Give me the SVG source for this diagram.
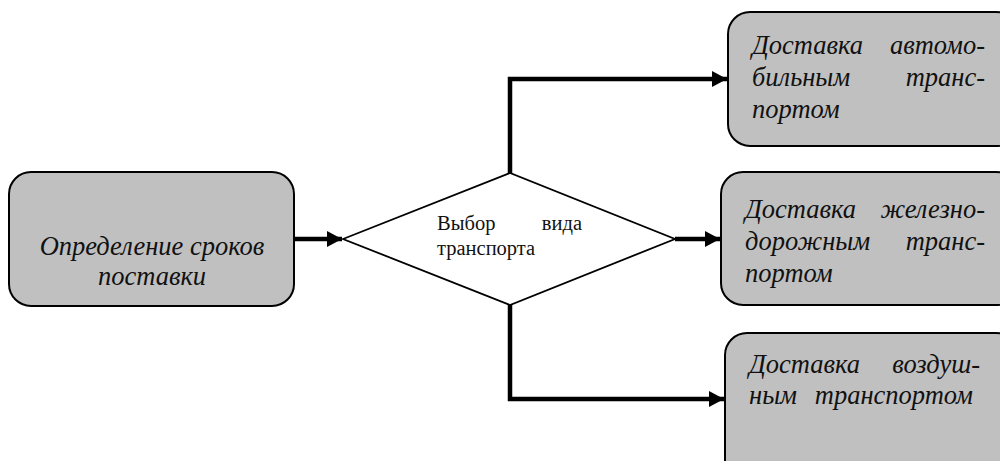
<svg xmlns="http://www.w3.org/2000/svg" width="1000" height="461" viewBox="0 0 1000 461">
<style>
.box{fill:#c0c0c0;stroke:#000;stroke-width:2}
.dia{fill:#fff;stroke:#000;stroke-width:1.8}
.t{font-family:"Liberation Serif","Times New Roman",serif;font-style:italic;font-size:26.5px;fill:#111}
.d{font-family:"Liberation Serif","Times New Roman",serif;font-size:20.5px;fill:#111}
.c{fill:none;stroke:#000;stroke-width:4.5}
</style>
<defs>
<marker id="ah" markerUnits="userSpaceOnUse" viewBox="0 0 15 16" refX="15" refY="8" markerWidth="15" markerHeight="16" orient="auto">
<path d="M0,0 L15,8 L0,16 Z" fill="#000"/>
</marker>
</defs>
<rect width="1000" height="461" fill="#fff"/>
<g id="connectors">
<path class="c" d="M294,239 H342" marker-end="url(#ah)"/>
<path class="c" d="M510,173 V79 H727" marker-end="url(#ah)"/>
<path class="c" d="M675,239 H720" marker-end="url(#ah)"/>
<path class="c" d="M510,305 V399 H724" marker-end="url(#ah)"/>
</g>
<g id="n-start">
<rect class="box" x="9" y="172" width="285" height="134" rx="22"/>
<text class="t" x="152" y="255" text-anchor="middle">Определение сроков</text>
<text class="t" x="152" y="285" text-anchor="middle">поставки</text>
</g>
<g id="n-choice">
<polygon class="dia" points="343,239 510,173 675,239 510,305"/>
<text class="d" x="437" y="230">Выбор</text>
<text class="d" x="582" y="230" text-anchor="end">вида</text>
<text class="d" x="437" y="255">транспорта</text>
</g>
<g id="n-auto">
<rect class="box" x="728" y="12" width="290" height="134" rx="22"/>
<text class="t" x="752" y="54">Доставка</text>
<text class="t" x="985" y="54" text-anchor="end">автомо-</text>
<text class="t" x="752" y="86">бильным</text>
<text class="t" x="985" y="86" text-anchor="end">транс-</text>
<text class="t" x="752" y="118">портом</text>
</g>
<g id="n-rail">
<rect class="box" x="721" y="172" width="297" height="133" rx="22"/>
<text class="t" x="745" y="218">Доставка</text>
<text class="t" x="985" y="218" text-anchor="end">железно-</text>
<text class="t" x="745" y="250">дорожным</text>
<text class="t" x="985" y="250" text-anchor="end">транс-</text>
<text class="t" x="745" y="282">портом</text>
</g>
<g id="n-air">
<rect class="box" x="725" y="333" width="293" height="160" rx="22"/>
<text class="t" x="749" y="373">Доставка</text>
<text class="t" x="980" y="373" text-anchor="end">воздуш-</text>
<text class="t" x="749" y="404">ным</text>
<text class="t" x="973" y="404" text-anchor="end">транспортом</text>
</g>
</svg>
